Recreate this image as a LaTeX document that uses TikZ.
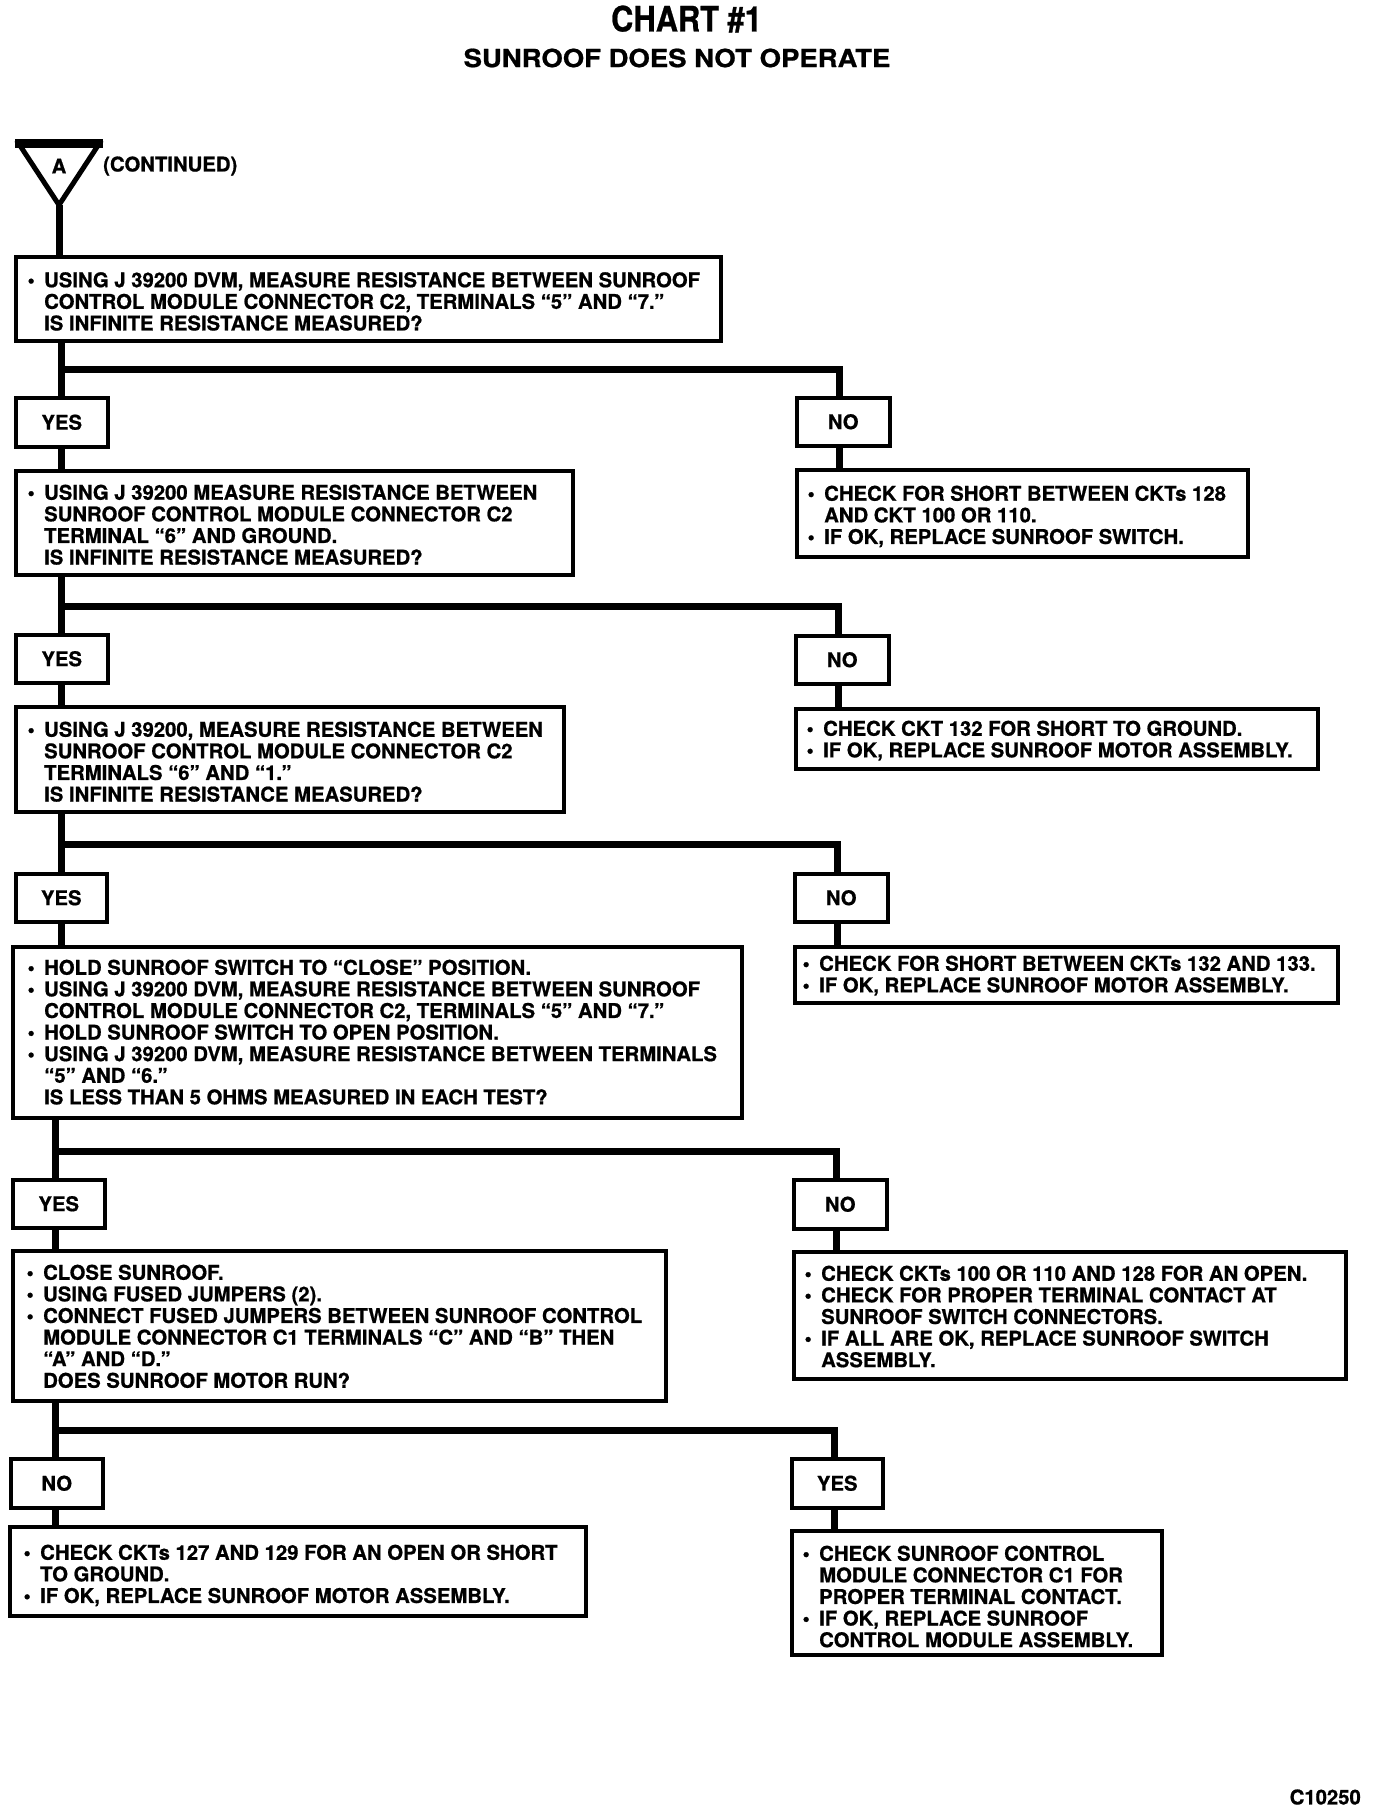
\documentclass[tikz,border=0pt]{standalone}
\usepackage{fontspec}
\setmainfont{TeX Gyre Heros}[BoldFeatures={FakeBold=0.8}]
\usepackage{graphicx}
\newcommand\bul{\llap{•\hspace{9.5pt}}}
\newcommand\mkbox[5]{%
  \pgfmathsetmacro\rsW{#4-#2}\pgfmathsetmacro\rsH{#5-#3}%
  \node[box, minimum width=\rsW pt, minimum height=\rsH pt] (#1) at (#2,#3) {};}
\tikzset{
  box/.style={draw, line width=3.5pt, inner sep=0pt, anchor=north west, fill=white},
  conn/.style={line width=7pt},
  txt/.style={font=\bfseries\fontsize{20.3}{21.6}\selectfont, align=left, inner sep=0pt, anchor=north west},
  lbl/.style={font=\bfseries\fontsize{20.3}{21.6}\selectfont, inner sep=0pt}
}
\begin{document}
\begin{tikzpicture}[x=1pt,y=-1pt]
\useasboundingbox (0,0) rectangle (1376,1812);
\fill[white] (0,0) rectangle (1376,1812);

% titles
\node[inner sep=0pt, font=\bfseries\fontsize{35}{35}\selectfont] (title) at (686.5,19) {\scalebox{0.88}[1]{CHART \#1}};
\node[inner sep=0pt, font=\bfseries\fontsize{25}{25}\selectfont] (subtitle) at (677,58) {\scalebox{1.1}[1]{SUNROOF DOES NOT OPERATE}};

% off-page connector triangle
\coordinate (apex) at (59,205);
\draw[line width=5pt] (19,144) -- (99,144) -- (apex) -- cycle;
\fill (15,139) rectangle (103,148);
\node[lbl] (alab) at (59,166) {A};
\node[lbl, anchor=west] (cont) at (103,166) {(CONTINUED)};

% boxes
\mkbox{b1}{14}{255}{719}{339}
\mkbox{y1}{14}{396}{106}{445}
\mkbox{n1}{795}{396}{888}{444}
\mkbox{b2}{14}{469}{571}{573}
\mkbox{r1}{795}{468}{1246}{555}
\mkbox{y2}{14}{633}{106}{681}
\mkbox{n2}{794}{634}{887}{682}
\mkbox{b3}{14}{705}{562}{810}
\mkbox{r2}{794}{707}{1316}{767}
\mkbox{y3}{14}{872}{105}{920}
\mkbox{n3}{793}{872}{886}{920}
\mkbox{b4}{11}{945}{740}{1116}
\mkbox{r3}{793}{945}{1336}{1001}
\mkbox{y4}{11}{1178}{103}{1226}
\mkbox{n4}{792}{1178}{885}{1227}
\mkbox{b5}{11}{1249}{664}{1399}
\mkbox{r4}{792}{1250}{1344}{1377}
\mkbox{n5}{9}{1457}{101}{1506}
\mkbox{y5}{790}{1457}{881}{1506}
\mkbox{r5n}{8}{1525}{584}{1614}
\mkbox{r5y}{790}{1529}{1160}{1653}

% YES / NO labels
\node[lbl] (y1l) at (y1.center) {YES};
\node[lbl] (n1l) at (n1.center) {NO};
\node[lbl] (y2l) at (y2.center) {YES};
\node[lbl] (n2l) at (n2.center) {NO};
\node[lbl] (y3l) at (y3.center) {YES};
\node[lbl] (n3l) at (n3.center) {NO};
\node[lbl] (y4l) at (y4.center) {YES};
\node[lbl] (n4l) at (n4.center) {NO};
\node[lbl] (n5l) at (n5.center) {NO};
\node[lbl] (y5l) at (y5.center) {YES};

% box texts
\node[txt] (b1t) at (44,272) {\bul USING J 39200 DVM, MEASURE RESISTANCE BETWEEN SUNROOF\\
CONTROL MODULE CONNECTOR C2, TERMINALS “5” AND “7.”\\
IS INFINITE RESISTANCE MEASURED?};
\node[txt] (r1t) at (824,485.5) {\bul CHECK FOR SHORT BETWEEN CKTs 128\\
AND CKT 100 OR 110.\\
\bul IF OK, REPLACE SUNROOF SWITCH.};
\node[txt] (b2t) at (44,484.5) {\bul USING J 39200 MEASURE RESISTANCE BETWEEN\\
SUNROOF CONTROL MODULE CONNECTOR C2\\
TERMINAL “6” AND GROUND.\\
IS INFINITE RESISTANCE MEASURED?};
\node[txt] (r2t) at (823,720.5) {\bul CHECK CKT 132 FOR SHORT TO GROUND.\\
\bul IF OK, REPLACE SUNROOF MOTOR ASSEMBLY.};
\node[txt] (b3t) at (44,721.5) {\bul USING J 39200, MEASURE RESISTANCE BETWEEN\\
SUNROOF CONTROL MODULE CONNECTOR C2\\
TERMINALS “6” AND “1.”\\
IS INFINITE RESISTANCE MEASURED?};
\node[txt] (r3t) at (819,955.5) {\bul CHECK FOR SHORT BETWEEN CKTs 132 AND 133.\\
\bul IF OK, REPLACE SUNROOF MOTOR ASSEMBLY.};
\node[txt] (b4t) at (44,959.5) {\bul HOLD SUNROOF SWITCH TO “CLOSE” POSITION.\\
\bul USING J 39200 DVM, MEASURE RESISTANCE BETWEEN SUNROOF\\
CONTROL MODULE CONNECTOR C2, TERMINALS “5” AND “7.”\\
\bul HOLD SUNROOF SWITCH TO OPEN POSITION.\\
\bul USING J 39200 DVM, MEASURE RESISTANCE BETWEEN TERMINALS\\
“5” AND “6.”\\
IS LESS THAN 5 OHMS MEASURED IN EACH TEST?};
\node[txt] (r4t) at (821,1265.5) {\bul CHECK CKTs 100 OR 110 AND 128 FOR AN OPEN.\\
\bul CHECK FOR PROPER TERMINAL CONTACT AT\\
SUNROOF SWITCH CONNECTORS.\\
\bul IF ALL ARE OK, REPLACE SUNROOF SWITCH\\
ASSEMBLY.};
\node[txt] (b5t) at (43,1264.5) {\bul CLOSE SUNROOF.\\
\bul USING FUSED JUMPERS (2).\\
\bul CONNECT FUSED JUMPERS BETWEEN SUNROOF CONTROL\\
MODULE CONNECTOR C1 TERMINALS “C” AND “B” THEN\\
“A” AND “D.”\\
DOES SUNROOF MOTOR RUN?};
\node[txt] (r5nt) at (40,1544.5) {\bul CHECK CKTs 127 AND 129 FOR AN OPEN OR SHORT\\
TO GROUND.\\
\bul IF OK, REPLACE SUNROOF MOTOR ASSEMBLY.};
\node[txt] (r5yt) at (819,1545.5) {\bul CHECK SUNROOF CONTROL\\
MODULE CONNECTOR C1 FOR\\
PROPER TERMINAL CONTACT.\\
\bul IF OK, REPLACE SUNROOF\\
CONTROL MODULE ASSEMBLY.};

\node[lbl, anchor=east] (code) at (1361,1797) {C10250};

% connectors
\draw[conn] (apex) -- (apex |- b1.north);
% section 1
\draw[conn] (y1.north |- b1.south) -- (y1.north);
\draw[conn] (y1.north |- 0,369) -| ([xshift=-4pt]n1.north);
\draw[conn] (y1.south) -- (y1.south |- b2.north);
\draw[conn] ([xshift=-4pt]n1.south) -- ([xshift=-4pt]n1.south |- r1.north);
% section 2
\draw[conn] (y2.north |- b2.south) -- (y2.north);
\draw[conn] (y2.north |- 0,606) -| ([xshift=-4pt]n2.north);
\draw[conn] (y2.south) -- (y2.south |- b3.north);
\draw[conn] ([xshift=-4pt]n2.south) -- ([xshift=-4pt]n2.south |- r2.north);
% section 3
\draw[conn] (y3.north |- b3.south) -- (y3.north);
\draw[conn] (y3.north |- 0,844) -| ([xshift=-4pt]n3.north);
\draw[conn] (y3.south) -- (y3.south |- b4.north);
\draw[conn] ([xshift=-4pt]n3.south) -- ([xshift=-4pt]n3.south |- r3.north);
% section 4
\draw[conn] ([xshift=-3pt]y4.north |- b4.south) -- ([xshift=-3pt]y4.north);
\draw[conn] ([xshift=-3pt]y4.north |- 0,1151) -| ([xshift=-4pt]n4.north);
\draw[conn] ([xshift=-3pt]y4.south) -- ([xshift=-3pt]y4.south |- b5.north);
\draw[conn] ([xshift=-4pt]n4.south) -- ([xshift=-4pt]n4.south |- r4.north);
% section 5
\draw[conn] ([xshift=-1pt]n5.north |- b5.south) -- ([xshift=-1pt]n5.north);
\draw[conn] ([xshift=-1pt]n5.north |- 0,1430) -| ([xshift=-3pt]y5.north);
\draw[conn] ([xshift=-1pt]n5.south) -- ([xshift=-1pt]n5.south |- r5n.north);
\draw[conn] ([xshift=-3pt]y5.south) -- ([xshift=-3pt]y5.south |- r5y.north);
\end{tikzpicture}
\end{document}
